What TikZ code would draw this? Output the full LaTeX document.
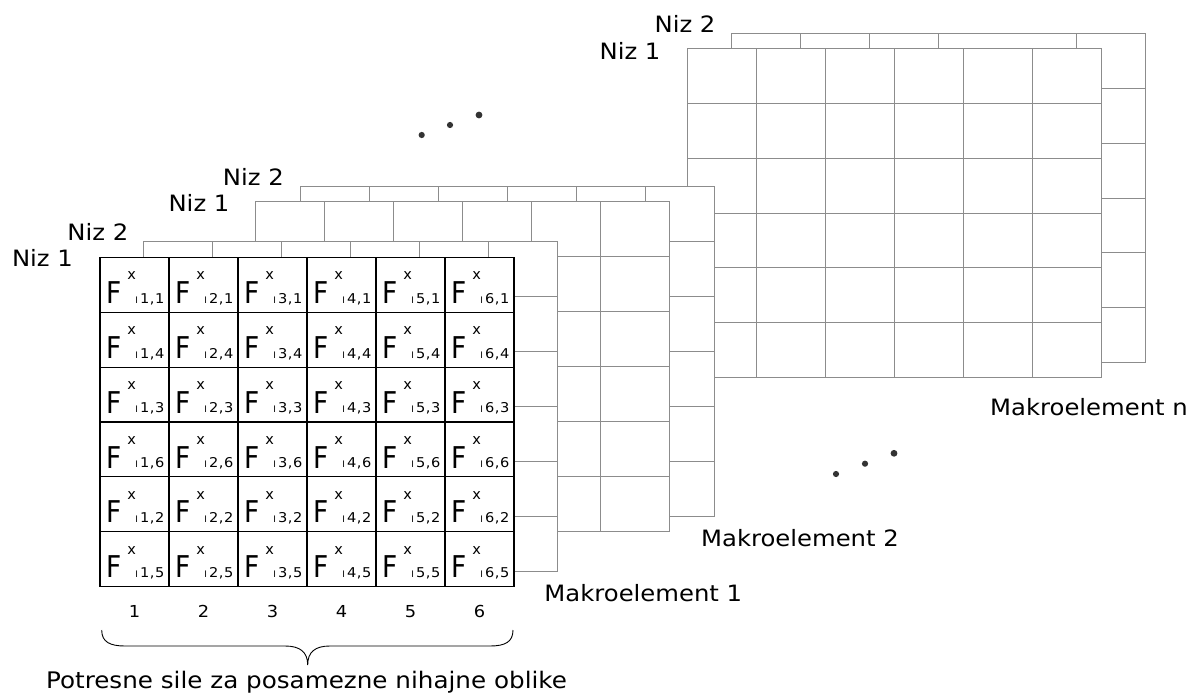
\documentclass[tikz,border=0pt]{standalone}
\usepackage{fontspec}
\setmainfont{DejaVu Sans}
\newfontfamily\lblfont[FakeStretch=1.08]{DejaVu Sans}
\newfontfamily\ffont[FakeStretch=0.88]{DejaVu Sans}
\newcommand{\mygrid}[4]{%
  \fill[white] (#1,#2) rectangle ++(414,329.4);
  \foreach \k in {#4} \draw[#3] ({#1+69*\k},#2) -- ++(0,329.4);
  \foreach \k in {1,...,5} \draw[#3] (#1,{#2+54.9*\k}) -- ++(414,0);
  \draw[#3] (#1,#2) rectangle ++(414,329.4);
}
\begin{document}
\begin{tikzpicture}[x=1pt,y=-1pt,
  backline/.style={draw=black!45,line width=1pt},
  frontline/.style={draw=black,line width=1.1pt},
  lbl/.style={inner sep=0pt,font=\lblfont\fontsize{22.5}{22.5}\selectfont},
  numlbl/.style={inner sep=0pt,font=\lblfont\fontsize{16.5}{16.5}\selectfont},
  bigF/.style={anchor=base west,inner sep=0pt,font=\ffont\fontsize{30}{30}\selectfont},
  supx/.style={inner sep=0pt,font=\fontsize{14.5}{14.5}\selectfont},
  subI/.style={anchor=base,inner sep=0pt,font=\fontsize{9}{9}\selectfont},
  subn/.style={anchor=base west,inner sep=0pt,font=\lblfont\fontsize{13.5}{13.5}\selectfont},
  dotmark/.style={fill=black!80,draw=none}]
\useasboundingbox (0,0) rectangle (1198,695);

% layers, back to front
\mygrid{731.7}{33.3}{backline}{1,2,3,5}
\mygrid{687.7}{48.3}{backline}{1,2,3,4,5}
\mygrid{300}{186.7}{backline}{1,2,3,4,5}
\mygrid{255.7}{201.7}{backline}{1,2,3,4,5}
\mygrid{143.3}{241.7}{backline}{1,2,3,4,5}
\mygrid{100}{257.3}{frontline}{1,2,3,4,5}

% cell contents of the front layer
\foreach \r/\m in {1/1,2/4,3/3,4/6,5/2,6/5}{
  \foreach \j in {1,...,6}{
    \pgfmathsetmacro\cx{100+69*(\j-1)}
    \pgfmathsetmacro\cy{257.3+54.9*(\r-1)}
    \node[bigF] (F\j\m) at (\cx+6,\cy+46) {F};
    \node[supx] (X\j\m) at (\cx+31.7,\cy+18.5) {x};
    \node[subI] (I\j\m) at (\cx+36.7,\cy+45.8) {I};
    \node[subn] (S\j\m) at (\cx+40,\cy+45.8) {\j{\kern0.5pt},\kern0.5pt\m};
  }
}

% column numbers
\foreach \j in {1,...,6}{
  \node[numlbl] (N\j) at ({134.5+69*(\j-1)},611.7) {\j};
}

% labels
\node[lbl] (niz1a) at (42.5,258.3) {Niz 1};
\node[lbl] (niz2a) at (97.9,231.7) {Niz 2};
\node[lbl] (niz1b) at (199,203.3) {Niz 1};
\node[lbl] (niz2b) at (253.3,176.7) {Niz 2};
\node[lbl] (niz1c) at (630,50.8) {Niz 1};
\node[lbl] (niz2c) at (685,23.8) {Niz 2};
\node[lbl] (mak1) at (643.3,593.3) {Makroelement 1};
\node[lbl] (mak2) at (800,537.7) {Makroelement 2};
\node[lbl] (makn) at (1089,406.7) {Makroelement n};
\node[lbl,font=\lblfont\fontsize{22.8}{22.8}\selectfont] (pot) at (306.5,682) {Potresne sile za posamezne nihajne oblike};

% dots
\fill[dotmark] (421.7,135) circle (3.1);
\fill[dotmark] (450,125) circle (3.1);
\fill[dotmark] (479,115) circle (3.4);
\fill[dotmark] (836,474) circle (3.1);
\fill[dotmark] (865,463.7) circle (3.1);
\fill[dotmark] (894,453.3) circle (3.4);

% brace
\draw[line width=0.9pt] (101.7,630) .. controls (101.7,642) and (110,646) .. (125,646)
  -- (285,646) .. controls (300,646) and (307.7,652) .. (307.7,665)
  .. controls (307.7,652) and (315,646) .. (330,646)
  -- (490,646) .. controls (505,646) and (513,642) .. (513,630);
\end{tikzpicture}
\end{document}
